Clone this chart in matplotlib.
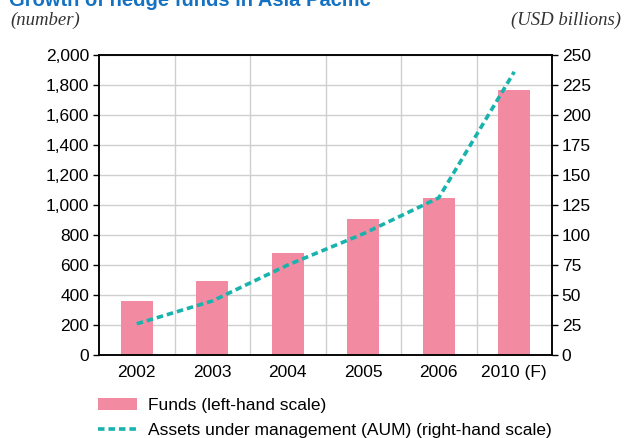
import matplotlib
matplotlib.use("Agg")
import matplotlib.pyplot as plt
from matplotlib.patches import Patch
from matplotlib.lines import Line2D
import numpy as np

# ── Data ──────────────────────────────────────────────────────────────────────
years = ["2002", "2003", "2004", "2005", "2006", "2010 (F)"]
funds = [360, 495, 680, 910, 1045, 1765]          # number of funds (left)
aum = [26, 45, 75, 101, 131, 236]                 # USD billions (right)

left_ticks = [0, 200, 400, 600, 800, 1000, 1200, 1400, 1600, 1800, 2000]
right_ticks = [0, 25, 50, 75, 100, 125, 150, 175, 200, 225, 250]

# ── Style ─────────────────────────────────────────────────────────────────────
PINK = "#F28BA2"
TEAL = "#17B3AC"
BLUE = "#1572C2"
GRID = "#CFCFCF"
plt.rcParams["font.family"] = ["Liberation Sans", "DejaVu Sans"]

fig = plt.figure(figsize=(6.25, 4.38), dpi=100)
ax = fig.add_axes([99 / 625, 1 - 355 / 438, (552 - 99) / 625, 300 / 438])

x = np.arange(len(years))
ax.bar(x, funds, width=0.42, color=PINK, zorder=2)
ax.set_xlim(-0.5, len(years) - 0.5)
ax.set_ylim(0, 2000)
ax.set_yticks(left_ticks)
ax.set_yticklabels([f"{v:,}" for v in left_ticks])
ax.set_xticks(x)
ax.set_xticklabels(years)
ax.set_xticks(np.arange(len(years) - 1) + 0.5, minor=True)
ax.grid(axis="y", which="major", color=GRID, linewidth=1, zorder=0)
ax.grid(axis="x", which="minor", color=GRID, linewidth=1, zorder=0)
ax.set_axisbelow(True)
ax.tick_params(axis="x", which="both", length=0, labelsize=12.5, pad=7)
ax.tick_params(axis="y", length=4, width=1, labelsize=12.5, pad=3)
for s in ax.spines.values():
    s.set_linewidth(1.1)

ax2 = ax.twinx()
ax2.plot(x, aum, color=TEAL, linewidth=2.6, dashes=(1.8, 1.1), zorder=3)
ax2.set_ylim(0, 250)
ax2.set_yticks(right_ticks)
ax2.tick_params(axis="y", length=4, width=1, labelsize=12.5, pad=3)
for s in ax2.spines.values():
    s.set_linewidth(1.1)

# ── Titles / units ────────────────────────────────────────────────────────────
# the title sits partly above the top edge, as in the source graphic
fig.text(9 / 625, 1 - 5.5 / 438, "Growth of hedge funds in Asia Pacific",
         fontsize=14.5, fontweight="bold", color=BLUE, ha="left", va="baseline")
fig.text(10 / 625, 1 - 20 / 438, "(number)", fontsize=13.5, style="italic",
         family=["Liberation Serif"], color="#333333", ha="left", va="center")
fig.text(621 / 625, 1 - 20 / 438, "(USD billions)", fontsize=13.5, style="italic",
         family=["Liberation Serif"], color="#333333", ha="right", va="center")

# ── Legend ────────────────────────────────────────────────────────────────────
handles = [
    Patch(facecolor=PINK, edgecolor="none"),
    Line2D([0], [0], color=TEAL, linewidth=2.6, dashes=(1.8, 1.1)),
]
labels = ["Funds (left-hand scale)",
          "Assets under management (AUM) (right-hand scale)"]
fig.legend(handles, labels, loc="upper left",
           bbox_to_anchor=(98 / 625, 1 - 398 / 438),
           frameon=False, fontsize=12.5, borderpad=0, borderaxespad=0,
           handlelength=2.25, handletextpad=0.65, labelspacing=0.58)

fig.savefig("out.png", dpi=100)
